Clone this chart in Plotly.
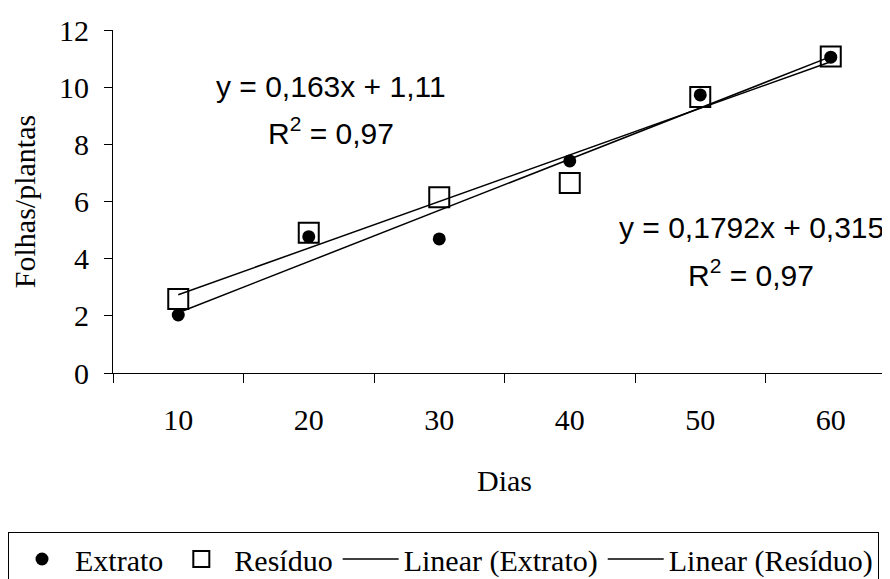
import plotly.graph_objects as go

dias = ["10", "20", "30", "40", "50", "60"]
dias_num = [10, 20, 30, 40, 50, 60]
extrato = [2.03, 4.77, 4.69, 7.42, 9.73, 11.05]
residuo = [2.59, 4.91, 6.15, 6.65, 9.66, 11.07]
# trendline coefficients as printed on the chart
ext_slope, ext_inter = 0.1792, 0.315
res_slope, res_inter = 0.163, 1.11
y_ticks = [0, 2, 4, 6, 8, 10, 12]
eq_res = ["y = 0,163x + 1,11", "R<sup>2</sup> = 0,97"]
eq_ext = ["y = 0,1792x + 0,315", "R<sup>2</sup> = 0,97"]

serif = "Liberation Serif"
sans = "Liberation Sans"

fig = go.Figure()
fig.add_trace(go.Scatter(
    x=dias, y=extrato, mode="markers", name="Extrato",
    marker=dict(symbol="circle", size=13, color="black"),
))
fig.add_trace(go.Scatter(
    x=dias, y=residuo, mode="markers", name="Resíduo",
    marker=dict(symbol="square-open", size=20, color="black", line=dict(width=2, color="black")),
))
fig.add_trace(go.Scatter(
    x=[dias[0], dias[-1]],
    y=[ext_slope * dias_num[0] + ext_inter, ext_slope * dias_num[-1] + ext_inter],
    mode="lines", name="Linear (Extrato)", line=dict(color="black", width=1.5),
))
fig.add_trace(go.Scatter(
    x=[dias[0], dias[-1]],
    y=[res_slope * dias_num[0] + res_inter, res_slope * dias_num[-1] + res_inter],
    mode="lines", name="Linear (Resíduo)", line=dict(color="black", width=1.5),
))

eqfont = dict(family=sans, size=30, color="black")
for txt, yy in zip(eq_res, [0.834, 0.705]):
    fig.add_annotation(x=0.278, y=yy, xref="paper", yref="paper", text=txt,
                       showarrow=False, font=eqfont, xanchor="center", yanchor="middle")
for txt, yy in zip(eq_ext, [0.423, 0.291]):
    fig.add_annotation(x=0.815, y=yy, xref="paper", yref="paper", text=txt,
                       showarrow=False, font=eqfont, xanchor="center", yanchor="middle")

fig.update_layout(
    width=890, height=579,
    margin=dict(l=105, r=2, t=22, b=214, autoexpand=False),
    paper_bgcolor="white", plot_bgcolor="white",
    font=dict(family=serif, size=30, color="black"),
    showlegend=True,
    legend=dict(orientation="h", xref="paper", yref="paper",
                x=-0.1341, y=-0.4636, xanchor="left", yanchor="top",
                bordercolor="black", borderwidth=1, bgcolor="white",
                font=dict(family=serif, size=30, color="black"),
                itemsizing="trace", itemwidth=56),
    xaxis=dict(type="category", range=[-0.5, 5.5], tickson="boundaries",
               showline=True, linecolor="black", linewidth=1,
               ticks="outside", ticklen=9, tickcolor="black", tickwidth=1,
               showgrid=False, zeroline=False, ticklabelstandoff=20,
               tickfont=dict(family=serif, size=30),
               title=dict(text="Dias", font=dict(family=serif, size=30), standoff=34)),
    yaxis=dict(range=[0, 12], tickvals=y_ticks, showline=True, linecolor="black", linewidth=1,
               ticks="outside", ticklen=8, tickcolor="black", tickwidth=1,
               showgrid=False, zeroline=False, ticklabelstandoff=9,
               tickfont=dict(family=serif, size=30),
               title=dict(text="Folhas/plantas", font=dict(family=serif, size=30), standoff=31)),
)

fig.write_html("out.html")
